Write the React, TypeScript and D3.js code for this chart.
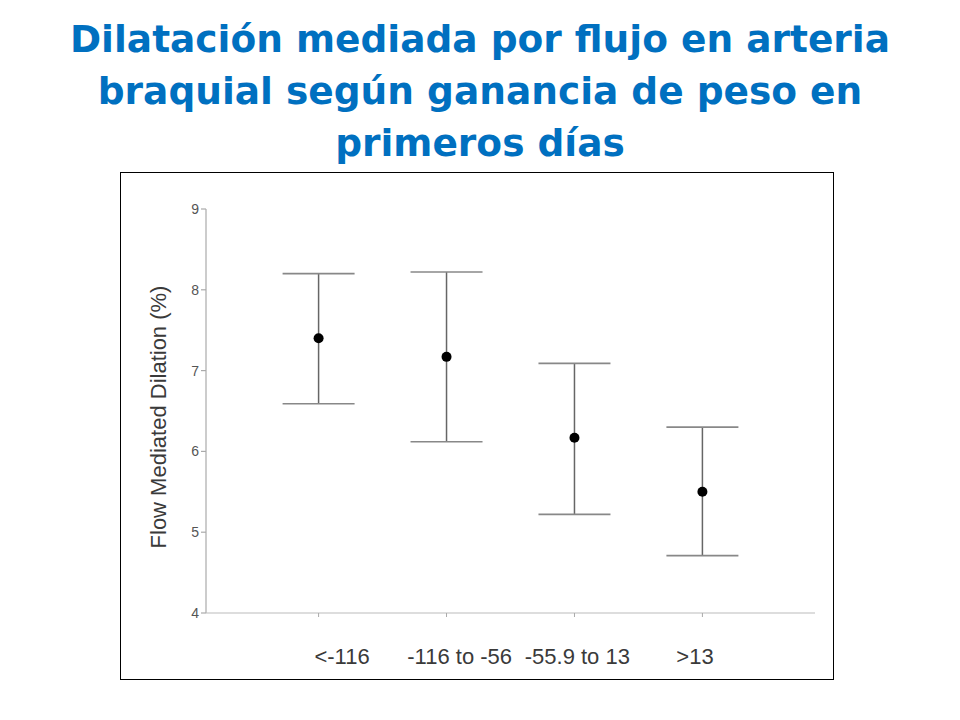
import React from 'react';
import * as d3 from 'd3';

const titleLines = [
    'Dilatación mediada por flujo en arteria',
    'braquial según ganancia de peso en',
    'primeros días',
];

const categories = ['<-116', '-116 to -56', '-55.9 to 13', '>13'];
const means = [7.4, 7.17, 6.17, 5.5];
const upper = [8.2, 8.22, 7.09, 6.3];
const lower = [6.59, 6.12, 5.22, 4.71];
const yTicks = [4, 5, 6, 7, 8, 9];
const yLabel = 'Flow Mediated Dilation (%)';

const W = 960;
const H = 720;

const App: React.FC = () => {
    const x = d3.scalePoint<string>()
        .domain(categories)
        .range([206, 815])
        .padding(0.88);

    // the scanned figure has its category labels a bit off the tick marks
    const xLabel = d3.scalePoint<string>()
        .domain(categories)
        .range([342, 695]);

    const y = d3.scaleLinear()
        .domain([4, 9])
        .range([613, 209]);

    const capHalf = 36;
    const font = "'Liberation Sans', Arial, sans-serif";

    return (
        <svg width={W} height={H} style={{ position: 'absolute', left: 0, top: 0, background: '#fff' }}>
            {/* title */}
            <g fontFamily="'DejaVu Sans', Tahoma, sans-serif" fontWeight="bold" fontSize={37.5} fill="#0070C0" textAnchor="middle">
                {titleLines.map((t, i) => (
                    <text key={i} x={480} y={52 + i * 52}>{t}</text>
                ))}
            </g>

            {/* picture frame */}
            <rect x={120.5} y={172.5} width={713} height={507} fill="none" stroke="#000" strokeWidth={1} />

            {/* y axis */}
            <line x1={206} x2={206} y1={y(9)} y2={y(4)} stroke="#aaa" strokeWidth={1.2} />
            {yTicks.map(t => (
                <g key={t}>
                    <line x1={201} x2={206} y1={y(t)} y2={y(t)} stroke="#aaa" strokeWidth={1.2} />
                    <text x={199} y={y(t)} dy="0.35em" textAnchor="end" fontFamily={font} fontSize={14} fill="#555">{t}</text>
                </g>
            ))}
            <text
                transform={`translate(158, ${(y(9) + y(4)) / 2 + 6}) rotate(-90)`}
                textAnchor="middle"
                dy="0.35em"
                fontFamily={font}
                fontSize={22}
                fill="#3a3a3a"
            >{yLabel}</text>

            {/* x axis */}
            <line x1={206} x2={815} y1={y(4)} y2={y(4)} stroke="#bbb" strokeWidth={1.2} />
            {categories.map(c => (
                <g key={c}>
                    <line x1={x(c)} x2={x(c)} y1={y(4)} y2={y(4) + 4} stroke="#aaa" strokeWidth={1} />
                    <text x={xLabel(c)} y={656} dy="0.35em" textAnchor="middle" fontFamily={font} fontSize={22} fill="#3a3a3a">{c}</text>
                </g>
            ))}

            {/* error bars */}
            {categories.map((c, i) => {
                const cx = x(c)!;
                return (
                    <g key={c}>
                        <line x1={cx} x2={cx} y1={y(upper[i])} y2={y(lower[i])} stroke="#666" strokeWidth={1.5} />
                        <line x1={cx - capHalf} x2={cx + capHalf} y1={y(upper[i])} y2={y(upper[i])} stroke="#888" strokeWidth={1.6} />
                        <line x1={cx - capHalf} x2={cx + capHalf} y1={y(lower[i])} y2={y(lower[i])} stroke="#888" strokeWidth={1.6} />
                        <circle cx={cx} cy={y(means[i])} r={5} fill="#000" />
                    </g>
                );
            })}
        </svg>
    );
};

export default App;
